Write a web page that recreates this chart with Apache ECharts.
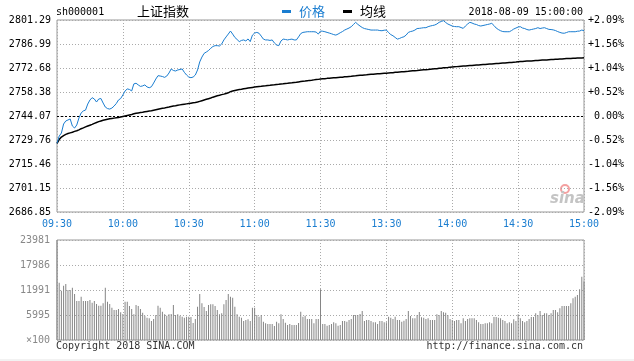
<!DOCTYPE html>
<html><head><meta charset="utf-8">
<script src="https://cdn.jsdelivr.net/npm/echarts@6/dist/echarts.min.js"></script>
<style>html,body{margin:0;padding:0;background:#fff}#c{width:634px;height:361px}</style>
</head><body><div id="c"></div>
<script>
const prevClose = 2744.07;
const priceTicks = ['2686.85','2701.15','2715.46','2729.76','2744.07','2758.38','2772.68','2786.99','2801.29'];
const pctTicks = ['-2.09%','-1.56%','-1.04%','-0.52%',' 0.00%','+0.52%','+1.04%','+1.56%','+2.09%'];
const volTicks = ['\u00d7100','5995','11991','17986','23981'];
const timeLabelsMorning = ['09:30','11:30'];
const timeLabelsAfternoon = ['13:01','15:00'];

const price = [
2727.8,2732.1,2733.9,2739.3,2741.1,2741.7,2742.3,2738.1,2736.9,2738.7,2742.9,
2745.9,2747.1,2747.6,2751.2,2753.6,2755.0,2754.2,2752.4,2754.2,2754.5,
2751.8,2749.4,2748.5,2748.2,2748.8,2750.0,2751.5,2753.6,2754.5,2756.6,
2759.0,2760.2,2759.9,2759.0,2763.2,2763.6,2762.6,2761.7,2762.0,2762.6,
2761.4,2760.9,2761.5,2763.7,2766.1,2768.1,2767.9,2767.6,2767.1,2767.9,
2769.7,2772.1,2771.2,2770.9,2771.5,2771.8,2772.1,2770.1,2768.5,2767.3,
2766.9,2767.3,2768.5,2771.5,2776.3,2779.2,2781.4,2782.2,2783.1,2784.4,
2785.5,2786.0,2786.0,2785.8,2787.0,2789.4,2791.2,2792.9,2794.7,2792.9,
2790.9,2789.7,2788.4,2789.1,2789.4,2788.8,2790.0,2788.4,2792.3,2793.5,
2793.9,2793.4,2791.7,2789.9,2789.4,2789.4,2789.1,2789.4,2787.6,2786.4,
2786.0,2788.8,2789.9,2789.7,2789.4,2789.7,2789.9,2789.4,2789.4,2791.2,
2793.2,2793.9,2794.1,2794.3,2794.3,2794.3,2794.3,2794.1,2792.9,2794.7,
2794.6,2794.3,2793.9,2793.5,2793.1,2792.6,2792.3,2792.9,2793.7,2794.4,
2795.3,2795.9,2796.5,2797.3,2798.6,2799.9,2798.7,2797.7,2796.8,2796.2,
2795.9,2795.6,2795.3,2795.3,2795.3,2795.3,2795.0,2794.9,2795.2,2795.3,
2793.8,2792.6,2791.9,2790.9,2789.9,2790.3,2790.9,2791.3,2792.3,2793.9,
2794.4,2794.7,2795.3,2796.2,2796.3,2796.5,2796.7,2796.7,2797.3,2797.7,
2798.0,2798.3,2798.9,2799.9,2800.4,2800.9,2799.8,2798.9,2798.3,2797.7,
2797.4,2797.3,2797.3,2796.8,2796.3,2797.7,2798.9,2799.9,2799.5,2798.9,
2798.6,2798.0,2797.7,2798.0,2798.3,2798.6,2798.9,2799.3,2798.0,2796.5,
2795.6,2794.9,2794.4,2794.3,2794.3,2794.3,2795.0,2795.9,2796.5,2797.1,
2797.3,2796.5,2796.2,2795.6,2795.3,2795.6,2795.9,2796.2,2796.7,2796.2,
2796.5,2796.7,2796.2,2795.7,2795.6,2795.4,2795.0,2794.4,2793.9,2793.5,
2793.4,2793.8,2794.3,2794.3,2794.3,2794.3,2794.6,2794.7,2795.3,2794.9
];

const avg = [
2727.8,2730.0,2731.5,2732.4,2733.1,2733.6,2734.0,2734.4,2734.9,2735.3,2735.8,
2736.5,2737.0,2737.6,2738.1,2738.6,2739.1,2739.7,2740.2,2740.7,2741.1,
2741.5,2741.8,2742.1,2742.4,2742.6,2742.8,2743.0,2743.2,2743.5,2743.8,
2744.1,2744.4,2744.7,2745.0,2745.4,2745.7,2745.9,2746.1,2746.3,2746.6,
2746.8,2747.0,2747.2,2747.5,2747.8,2748.1,2748.4,2748.7,2748.9,2749.2,
2749.4,2749.7,2750.0,2750.2,2750.5,2750.7,2750.9,2751.1,2751.3,2751.5,
2751.7,2751.9,2752.1,2752.4,2752.8,2753.2,2753.6,2754.0,2754.4,2754.8,
2755.3,2755.7,2756.1,2756.4,2756.8,2757.1,2757.5,2757.9,2758.6,2759.0,
2759.3,2759.6,2759.8,2760.0,2760.3,2760.5,2760.7,2760.9,2761.1,2761.3,
2761.5,2761.7,2761.8,2762.0,2762.1,2762.3,2762.4,2762.6,2762.7,2762.9,
2763.0,2763.2,2763.3,2763.5,2763.6,2763.8,2763.9,2764.1,2764.2,2764.4,
2764.6,2764.8,2764.9,2765.1,2765.3,2765.4,2765.6,2765.8,2765.9,2766.1,
2766.2,2766.3,2766.5,2766.6,2766.7,2766.8,2766.9,2767.0,2767.1,2767.2,
2767.4,2767.5,2767.6,2767.7,2767.9,2768.0,2768.2,2768.3,2768.4,2768.5,
2768.6,2768.8,2768.9,2769.0,2769.1,2769.2,2769.3,2769.4,2769.5,2769.6,
2769.7,2769.8,2769.9,2770.1,2770.2,2770.3,2770.4,2770.5,2770.6,2770.7,
2770.9,2771.0,2771.1,2771.2,2771.4,2771.5,2771.6,2771.7,2771.8,2772.0,
2772.1,2772.2,2772.3,2772.5,2772.6,2772.8,2772.9,2773.0,2773.2,2773.3,
2773.4,2773.5,2773.6,2773.7,2773.8,2773.9,2774.0,2774.1,2774.2,2774.3,
2774.4,2774.5,2774.6,2774.7,2774.8,2774.9,2775.0,2775.1,2775.2,2775.3,
2775.4,2775.5,2775.6,2775.7,2775.8,2775.9,2776.0,2776.1,2776.2,2776.4,
2776.5,2776.6,2776.7,2776.8,2776.8,2776.9,2777.0,2777.1,2777.2,2777.3,
2777.4,2777.4,2777.5,2777.6,2777.7,2777.8,2777.9,2777.9,2778.0,2778.1,
2778.2,2778.3,2778.3,2778.4,2778.5,2778.5,2778.6,2778.7,2778.7,2778.8
];

const volume = [
23981,13750,11830,13030,13430,11990,11990,12550,11030,9350,9350,
10390,9350,9350,9350,9590,8950,9350,8630,8230,8230,
8790,12550,9190,8630,7750,7190,7190,7430,6630,6230,
9190,9190,8150,7430,6150,8390,8150,7430,6550,5830,
5350,5200,4560,5040,6000,8230,7750,6790,6150,5830,
6150,6230,8390,6000,6150,5830,5600,5350,5600,5600,
5520,4080,5040,7990,11030,8790,7910,6950,8390,8550,
8550,8150,7190,6150,6390,8550,9590,11030,10390,10150,
7990,6150,5600,5350,4560,4800,4960,4560,7750,7750,
6000,5600,6000,4400,4000,3840,3840,3840,3360,4400,
4000,6150,5040,4160,3600,3840,3600,3600,3600,4080,
6790,5600,5830,5040,5040,5040,4000,5040,5040,12150,
3840,3840,3440,3600,3840,4240,4000,3440,3600,4560,
4560,4400,4800,5040,6000,6000,6000,6230,6950,4560,
4800,4800,4560,4240,4240,3840,4560,4560,4240,4240,
5600,5350,5040,5600,4800,4800,4400,4640,5040,6950,
5750,5200,5200,6000,6710,5440,5350,5040,5200,4800,
4800,4800,6150,6000,6950,6630,6550,6000,5040,4800,
4560,4800,4800,4000,5200,4560,5040,5200,5200,5200,
4800,4240,3840,3840,4000,4000,4240,4000,5520,5520,
5350,5200,4800,4560,4000,4240,4000,4960,4560,6150,
5200,4560,4240,4560,5040,5520,5520,6390,6000,6950,
6000,6390,6390,6000,6390,7190,7190,6630,7590,8150,
8150,8150,8150,8790,9990,10390,10790,12150,15190,14000
];

// minute categories: 09:30..11:30 and 13:01..15:00
function minutes(start, end) {
  const out = [];
  let [h, m] = start.split(':').map(Number);
  const [eh, em] = end.split(':').map(Number);
  while (h < eh || (h === eh && m <= em)) {
    out.push(String(h).padStart(2,'0') + ':' + String(m).padStart(2,'0'));
    m++; if (m === 60) { m = 0; h++; }
  }
  return out;
}
const categories = minutes(timeLabelsMorning[0], timeLabelsMorning[1]).concat(minutes(timeLabelsAfternoon[0], timeLabelsAfternoon[1]));

const BLUE = '#1a7dd0';
const MONO = 'DejaVu Sans Mono';
const half = 57.22, step = 14.305;
const tickIdx = v => Math.round((v + half) / step);
const dotted = { color: '#aaa', type: [1, 2], width: 1 };

const chart = echarts.init(document.getElementById('c'), null, { renderer: 'canvas' });
chart.setOption({
  animation: false,
  backgroundColor: '#fff',
  title: [
    { text: 'sh000001', left: 56, top: 7, padding: 0, textStyle: { fontFamily: MONO, fontSize: 10, fontWeight: 'normal', color: '#000' } },
    { text: '上证指数', left: 137, top: 5, padding: 0, textStyle: { fontFamily: 'Noto Sans CJK SC', fontSize: 13, fontWeight: 'normal', color: '#000' } },
    { text: '2018-08-09 15:00:00', right: 51, top: 7, padding: 0, textStyle: { fontFamily: MONO, fontSize: 10, fontWeight: 'normal', color: '#000' } }
  ],
  legend: {
    left: 282, top: 5, padding: 0, icon: 'rect', itemWidth: 9, itemHeight: 3, itemGap: 18,
    textStyle: { fontFamily: 'Noto Sans CJK SC', fontSize: 13, padding: [0, 0, 0, 3] },
    data: [
      { name: '价格', textStyle: { color: BLUE } },
      { name: '均线', textStyle: { color: '#000' } }
    ]
  },
  grid: [
    { left: 57, top: 20, width: 527, height: 192, show: true, borderColor: '#999', borderWidth: 1, backgroundColor: 'transparent' },
    { left: 57, top: 240, width: 527, height: 100, show: true, borderColor: '#999', borderWidth: 1, backgroundColor: 'transparent' }
  ],
  xAxis: [
    { type: 'category', gridIndex: 0, data: categories, boundaryGap: false,
      axisLine: { show: false }, axisTick: { show: false },
      axisLabel: { interval: 29, color: BLUE, fontFamily: MONO, fontSize: 10, margin: 7 },
      splitLine: { show: true, interval: 29, lineStyle: dotted } },
    { type: 'category', gridIndex: 1, data: categories, boundaryGap: false,
      axisLine: { show: false }, axisTick: { show: false }, axisLabel: { show: false },
      splitLine: { show: true, interval: 29, lineStyle: dotted } }
  ],
  yAxis: [
    { type: 'value', gridIndex: 0, position: 'left', min: -half, max: half, interval: step,
      axisLine: { show: false }, axisTick: { show: false },
      axisLabel: { fontFamily: MONO, fontSize: 10, margin: 6,
        formatter: v => priceTicks[tickIdx(v)],
        color: v => { const i = tickIdx(v); return i > 4 ? '#f00' : (i < 4 ? '#080' : '#000'); } },
      splitLine: { show: true, lineStyle: dotted } },
    { type: 'value', gridIndex: 0, position: 'right', min: -half, max: half, interval: step,
      axisLine: { show: false }, axisTick: { show: false },
      axisLabel: { fontFamily: MONO, fontSize: 10, margin: 4,
        formatter: v => pctTicks[tickIdx(v)],
        color: v => { const i = tickIdx(v); return i > 4 ? '#f00' : (i < 4 ? '#080' : '#000'); } },
      splitLine: { show: false } },
    { type: 'value', gridIndex: 1, position: 'left', min: 0, max: 23981, interval: 5995.25,
      axisLine: { show: false }, axisTick: { show: false },
      axisLabel: { fontFamily: MONO, fontSize: 10, margin: 7, color: '#888',
        formatter: v => volTicks[Math.round(v / 5995.25)] },
      splitLine: { show: true, lineStyle: dotted } }
  ],
  series: [
    { name: '价格', type: 'line', xAxisIndex: 0, yAxisIndex: 0, showSymbol: false, symbol: 'none',
      data: price.map(p => +(p - prevClose).toFixed(2)),
      itemStyle: { color: BLUE }, lineStyle: { color: BLUE, width: 1 }, z: 4,
      markLine: { silent: true, symbol: 'none', animation: false, label: { show: false },
        lineStyle: { color: '#000', type: [2, 2], width: 1 },
        data: [{ yAxis: 0 }] } },
    { name: '均线', type: 'line', xAxisIndex: 0, yAxisIndex: 0, showSymbol: false, symbol: 'none',
      data: avg.map(p => +(p - prevClose).toFixed(2)),
      itemStyle: { color: '#000' }, lineStyle: { color: '#000', width: 1.5 }, z: 3 },
    { name: '成交量', type: 'bar', xAxisIndex: 1, yAxisIndex: 2, barWidth: 1,
      data: volume, itemStyle: { color: '#858585' }, z: 2 }
  ],
  graphic: [
    { type: 'text', left: 56, top: 341, style: { text: 'Copyright 2018 SINA.COM', font: '10px "DejaVu Sans Mono"', fill: '#333' } },
    { type: 'text', right: 51, top: 341, style: { text: 'http://finance.sina.com.cn', font: '10px "DejaVu Sans Mono"', fill: '#333' } },
    { type: 'circle', shape: { cx: 565, cy: 189, r: 4 }, style: { fill: 'none', stroke: '#f4a0a0', lineWidth: 2 } },
    { type: 'text', left: 550, top: 192, style: { text: 'sina', font: 'italic bold 15px "DejaVu Sans"', fill: '#c4c4c4' } },
    { type: 'rect', shape: { x: 0, y: 359, width: 634, height: 2 }, style: { fill: '#f2f2f2' } }
  ]
});
</script></body></html>
